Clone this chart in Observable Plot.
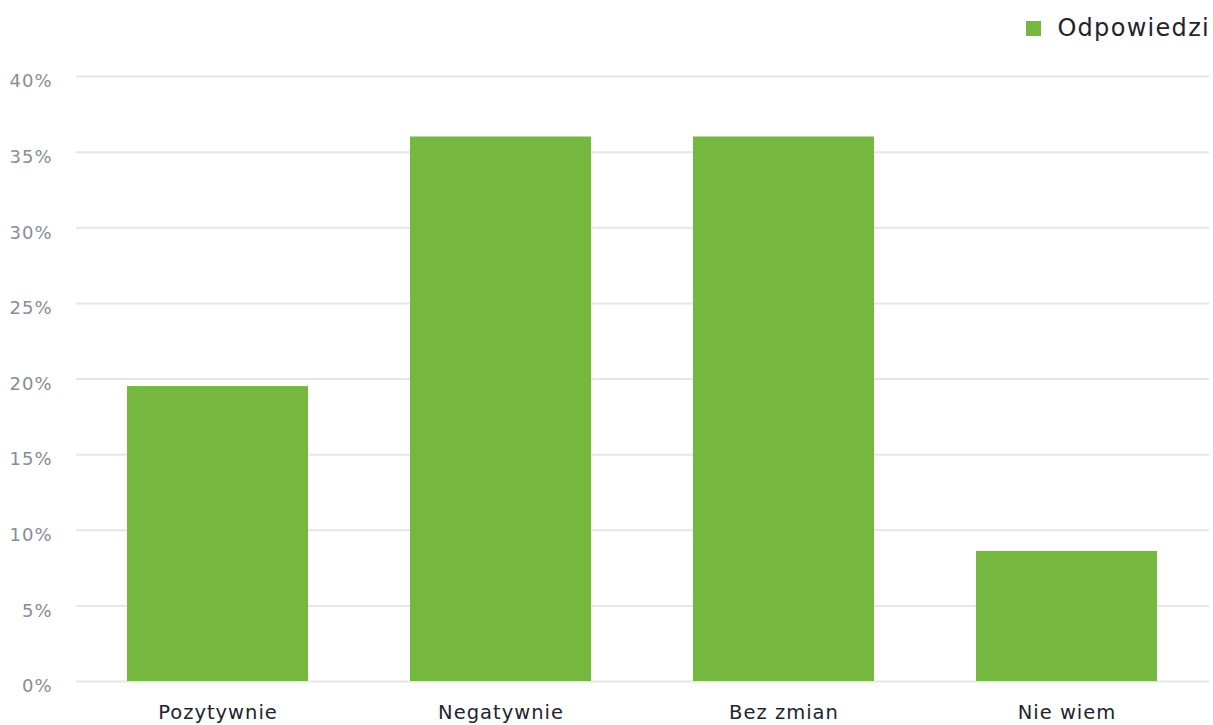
<!DOCTYPE html>
<html>
<head>
<meta charset="utf-8">
<script src="https://cdn.jsdelivr.net/npm/d3@7"></script>
<script src="https://cdn.jsdelivr.net/npm/@observablehq/plot@0.6"></script>
<style>
  html, body { margin: 0; padding: 0; background: #fff; }
  #wrap { position: relative; width: 1213px; height: 725px; font-family: "DejaVu Sans", sans-serif; }
  #legend { position: absolute; top: 14px; right: 3px; display: flex; align-items: center; font-size: 24px; color: #22232f; letter-spacing: 1.3px; }
  #legend .sw { width: 15px; height: 15px; background: #76b83f; margin-right: 16px; }
  svg text { letter-spacing: 1px; }
</style>
</head>
<body>
<div id="wrap">
  <div id="legend"><span class="sw"></span><span>Odpowiedzi</span></div>
</div>
<script>
const categories = ["Pozytywnie", "Negatywnie", "Bez zmian", "Nie wiem"];
const values = [19.5, 36.0, 36.0, 8.6];
const yTicks = [0, 5, 10, 15, 20, 25, 30, 35, 40];
const seriesName = "Odpowiedzi";

const data = categories.map((c, i) => ({category: c, value: values[i], series: seriesName}));

const chart = Plot.plot({
  width: 1213,
  height: 725,
  marginTop: 76,
  marginBottom: 44,
  marginLeft: 76,
  marginRight: 4,
  style: {fontFamily: "'DejaVu Sans', sans-serif", background: "#fff"},
  x: {domain: categories, paddingInner: 0.36, paddingOuter: 0.18, label: null},
  y: {domain: [0, 40], ticks: yTicks, label: null},
  marks: [
    Plot.ruleY(yTicks, {stroke: "#e6e6e6", strokeWidth: 2}),
    Plot.barY(data, {x: "category", y: "value", fill: "#76b83f"}),
    Plot.axisY({ticks: yTicks, tickSize: 0, tickPadding: 24, tickFormat: d => d + "%", fontSize: 18, color: "#8a8b99", dy: 5, label: null}),
    Plot.axisX({tickSize: 0, tickPadding: 24, fontSize: 19.5, color: "#22232f", label: null})
  ]
});
document.getElementById("wrap").prepend(chart);
</script>
</body>
</html>
